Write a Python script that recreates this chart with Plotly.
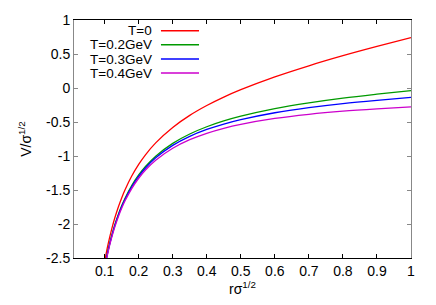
import plotly.graph_objects as go

# r*sigma^(1/2) sample positions
x_vals = [0.10, 0.11, 0.12, 0.13, 0.14, 0.15, 0.16, 0.18, 0.20, 0.22, 0.25,
          0.30, 0.35, 0.40, 0.45, 0.50, 0.60, 0.70, 0.80, 0.90, 1.00]

# V/sigma^(1/2)
v_T0 = [-2.553, -2.301, -2.090, -1.909, -1.753, -1.616, -1.496, -1.291, -1.123, -0.982, -0.807,
        -0.580, -0.403, -0.258, -0.134, -0.025, 0.164, 0.327, 0.475, 0.611, 0.741]
v_T02 = [-2.631, -2.387, -2.184, -2.010, -1.862, -1.733, -1.621, -1.431, -1.279, -1.154, -1.002,
         -0.814, -0.676, -0.570, -0.485, -0.415, -0.304, -0.219, -0.149, -0.091, -0.039]
v_T03 = [-2.641, -2.398, -2.196, -2.023, -1.876, -1.748, -1.637, -1.449, -1.299, -1.176, -1.027,
         -0.844, -0.711, -0.610, -0.530, -0.465, -0.364, -0.289, -0.229, -0.181, -0.139]
v_T04 = [-2.655, -2.413, -2.212, -2.042, -1.896, -1.769, -1.659, -1.475, -1.327, -1.206, -1.062,
         -0.886, -0.760, -0.666, -0.593, -0.535, -0.448, -0.387, -0.341, -0.307, -0.279]

labels = ["T=0", "T=0.2GeV", "T=0.3GeV", "T=0.4GeV"]
series = [v_T0, v_T02, v_T03, v_T04]
colors = ["#ff0000", "#009a00", "#0000ff", "#cc00cc"]

x_ticks = [0.1, 0.2, 0.3, 0.4, 0.5, 0.6, 0.7, 0.8, 0.9, 1.0]
x_ticktext = ["0.1", "0.2", "0.3", "0.4", "0.5", "0.6", "0.7", "0.8", "0.9", "1"]
y_ticks = [1, 0.5, 0, -0.5, -1, -1.5, -2, -2.5]
y_ticktext = ["1", "0.5", "0", "-0.5", "-1", "-1.5", "-2", "-2.5"]

FONT = "Liberation Sans, Arial, sans-serif"
FS = 14

fig = go.Figure()
for lab, ys, col in zip(labels, series, colors):
    fig.add_trace(go.Scatter(x=x_vals, y=ys, mode="lines", name=lab,
                             line=dict(color=col, width=1.3, shape="spline"),
                             showlegend=False))

# gnuplot-style key: text right-aligned, sample to the right
key_y = [0.955, 0.8955, 0.836, 0.777]
for lab, col, ky in zip(labels, colors, key_y):
    fig.add_annotation(x=0.2285, y=ky, xref="paper", yref="paper", text=lab,
                       showarrow=False, xanchor="right", yanchor="middle",
                       xshift=2, borderpad=0,
                       font=dict(family=FONT, size=FS - 0.5, color="black"))
    fig.add_shape(type="line", xref="paper", yref="paper", x0=0.258, x1=0.371,
                  y0=ky, y1=ky, line=dict(color=col, width=1.5))

fig.update_layout(
    width=436, height=305,
    margin=dict(l=74, r=25, t=17, b=44),
    paper_bgcolor="white", plot_bgcolor="white",
    font=dict(family=FONT, size=FS, color="black"),
)
fig.update_xaxes(range=[0.01, 1], tickvals=x_ticks, ticktext=x_ticktext,
                 showline=True, linecolor="black", linewidth=1, mirror="ticks",
                 ticks="inside", ticklen=4, tickcolor="black",
                 showgrid=False, zeroline=False,
                 title=dict(text="rσ<sup>1/2</sup>", standoff=4,
                            font=dict(family=FONT, size=FS)))
fig.update_yaxes(range=[-2.5, 1], tickvals=y_ticks, ticktext=y_ticktext,
                 showline=True, linecolor="#888888", linewidth=1, mirror="ticks",
                 ticks="inside", ticklen=4, tickcolor="#888888",
                 showgrid=False, zeroline=False,
                 title=dict(text="V/σ<sup>1/2</sup>", standoff=11,
                            font=dict(family=FONT, size=FS)))

fig.write_html("out.html", config={"displayModeBar": False},
               post_script="document.body.style.margin='0px';document.body.style.overflow='hidden';")
